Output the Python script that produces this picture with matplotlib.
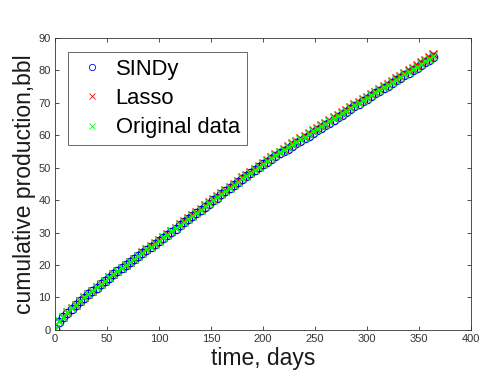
import numpy as np
import matplotlib
matplotlib.use('Agg')
import matplotlib.pyplot as plt

plt.rcParams['font.family'] = ['Liberation Sans', 'DejaVu Sans']

# sampled every 4 days
days = list(range(0, 365, 4))

original = [0.2, 2.6, 4.1, 5.4, 6.6, 7.8, 8.9, 10.0, 11.1, 12.1,
            13.1, 14.2, 15.2, 16.2, 17.1, 18.1, 19.1, 20.0, 21.0, 21.9,
            22.9, 23.8, 24.8, 25.7, 26.6, 27.5, 28.5, 29.4, 30.4, 31.3,
            32.3, 33.3, 34.2, 35.2, 36.1, 37.1, 38.1, 39.0, 40.0, 40.9,
            41.9, 42.9, 43.8, 44.8, 45.7, 46.7, 47.6, 48.5, 49.4, 50.3,
            51.2, 52.1, 53.0, 53.8, 54.7, 55.5, 56.4, 57.2, 58.0, 58.8,
            59.6, 60.4, 61.2, 62.0, 62.8, 63.6, 64.4, 65.2, 66.0, 66.8,
            67.6, 68.4, 69.2, 70.0, 70.8, 71.6, 72.4, 73.2, 74.0, 74.8,
            75.6, 76.4, 77.2, 78.0, 78.8, 79.6, 80.4, 81.2, 82.0, 82.8,
            83.6, 84.4]

sindy = [0.2, 2.5, 4.0, 5.3, 6.5, 7.7, 8.8, 9.9, 11.0, 12.0,
         13.0, 14.1, 15.1, 16.1, 17.1, 18.1, 19.0, 20.0, 20.9, 21.9,
         22.8, 23.8, 24.7, 25.6, 26.6, 27.5, 28.4, 29.3, 30.3, 31.2,
         32.2, 33.2, 34.1, 35.1, 36.0, 37.0, 38.0, 38.9, 39.9, 40.8,
         41.8, 42.8, 43.7, 44.7, 45.6, 46.6, 47.5, 48.4, 49.3, 50.2,
         51.1, 51.9, 52.8, 53.5, 54.4, 55.1, 55.9, 56.7, 57.5, 58.3,
         59.1, 59.9, 60.7, 61.5, 62.3, 63.1, 63.9, 64.8, 65.6, 66.4,
         67.3, 68.1, 68.9, 69.7, 70.5, 71.3, 72.1, 72.9, 73.7, 74.5,
         75.3, 76.1, 76.9, 77.7, 78.5, 79.3, 80.1, 80.9, 81.7, 82.5,
         83.3, 84.0]

lasso = [0.2, 2.6, 4.1, 5.4, 6.6, 7.8, 8.9, 10.0, 11.1, 12.1,
         13.1, 14.2, 15.2, 16.2, 17.2, 18.2, 19.1, 20.1, 21.0, 22.0,
         22.9, 23.9, 24.8, 25.8, 26.7, 27.6, 28.6, 29.5, 30.5, 31.5,
         32.5, 33.5, 34.5, 35.5, 36.4, 37.4, 38.4, 39.3, 40.3, 41.2,
         42.2, 43.2, 44.1, 45.1, 46.0, 47.0, 47.9, 48.8, 49.7, 50.6,
         51.5, 52.4, 53.3, 54.1, 55.0, 55.8, 56.7, 57.5, 58.3, 59.1,
         59.9, 60.7, 61.5, 62.3, 63.1, 63.9, 64.7, 65.5, 66.3, 67.1,
         67.9, 68.7, 69.5, 70.3, 71.1, 71.9, 72.7, 73.5, 74.3, 75.1,
         75.9, 76.8, 77.6, 78.4, 79.2, 80.0, 80.8, 81.7, 82.5, 83.3,
         84.1, 85.0]

fig = plt.figure(figsize=(4.82, 3.84), dpi=100)
ax = fig.add_axes([0.114, 0.141, 0.863, 0.760])

ax.plot(days, sindy, 'o', color=(0, 0, 1), markerfacecolor='none',
        markersize=6, markeredgewidth=0.9, label='SINDy')
ax.plot(days, lasso, 'x', color=(1, 0, 0), markersize=6,
        markeredgewidth=1.0, label='Lasso')
ax.plot(days, original, 'x', color=(0, 1, 0), markersize=6,
        markeredgewidth=1.0, label='Original data')

ax.set_xlim(0, 400)
ax.set_ylim(0, 90)
ax.set_xticks(range(0, 401, 50))
ax.set_yticks(range(0, 91, 10))

grey = '#333333'
for s in ax.spines.values():
    s.set_color(grey)
    s.set_linewidth(0.6)
ax.tick_params(direction='in', top=True, right=True, length=3, width=0.6,
               colors=grey, labelsize=8, pad=3)

ax.set_xlabel('time, days', fontsize=16.5, color='#1a1a1a', labelpad=2)
ax.set_ylabel('cumulative production,bbl', fontsize=16.5, color='#1a1a1a',
              labelpad=2)

leg = ax.legend(loc='upper left', bbox_to_anchor=(0.031, 0.952),
                borderaxespad=0, fontsize=15.8, frameon=True, fancybox=False,
                handlelength=1.6, handletextpad=0.28, borderpad=0.3,
                labelspacing=0.38, markerscale=0.75)
for h in leg.legend_handles:
    h.set_markeredgewidth(0.6)
leg.get_frame().set_edgecolor('#222222')
leg.get_frame().set_linewidth(0.6)

fig.savefig('out.png', dpi=100)
